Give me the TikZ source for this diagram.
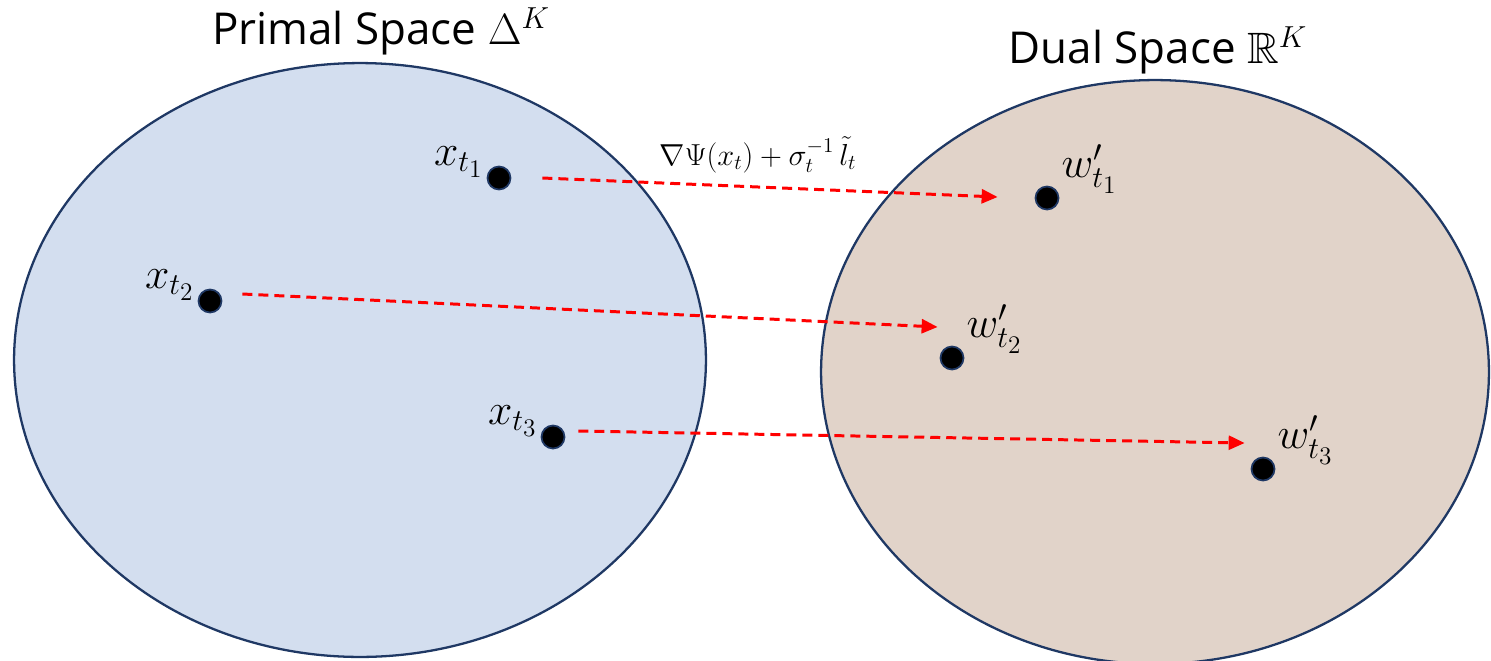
\documentclass[tikz,border=0pt]{standalone}
\usepackage{amsmath,amssymb}
\usepackage{fontspec}
\setmainfont{Open Sans}
\usetikzlibrary{positioning,arrows.meta,calc,shapes.geometric}
\definecolor{rim}{HTML}{1F3864}
\definecolor{primalfill}{HTML}{D3DEEF}
\definecolor{dualfill}{HTML}{E1D3C9}
\definecolor{flowred}{HTML}{FF0000}

\begin{document}
\begin{tikzpicture}[
      x=0.02cm, y=-0.02cm,
      space/.style={draw=rim, line width=1.3pt, ellipse, inner sep=0pt},
      dot/.style={circle, draw=rim, line width=1pt, fill=black,
                  minimum size=0.46cm, inner sep=0pt},
      lbl/.style={inner sep=0pt, font=\fontsize{27}{30}\selectfont},
      title/.style={inner sep=0pt, font=\fontsize{25}{29}\selectfont},
      flow/.style={-{Triangle[length=0.32cm,width=0.28cm]}, color=flowred,
                   line width=1.7pt, dash pattern=on 0.2cm off 0.12cm},
    ]
      \useasboundingbox (0,0) rectangle (1491,660);

      \node[space, fill=primalfill, minimum width=13.84cm, minimum height=11.88cm] (primal) at (360,360) {};
      \node[space, fill=dualfill, minimum width=13.36cm, minimum height=11.68cm] (dual) at (1155,372) {};

      \node[title, anchor=base] (tp) at (381,44) {Primal Space $\Delta^K$};
      \node[title, anchor=base] (td) at (1158,63) {Dual Space $\mathbb{R}^K$};

      \node[dot] (x1) at (499,178) {};
      \node[dot] (x2) at (210,301) {};
      \node[dot] (x3) at (553,437) {};
      \node[dot] (w1) at (1047,198) {};
      \node[dot] (w2) at (952,358) {};
      \node[dot] (w3) at (1263,469) {};

      \node[lbl, anchor=south east] (lx1) at ($(x1.west)+(-3,0)$) {$x_{t_1}$};
      \node[lbl, anchor=south east] (lx2) at ($(x2.west)+(-3,0)$) {$x_{t_2}$};
      \node[lbl, anchor=south east] (lx3) at ($(x3.west)+(-3,0)$) {$x_{t_3}$};
      \node[lbl, anchor=south west] (lw1) at ($(w1.east)+(2,-4)$) {$w'_{t_1}$};
      \node[lbl, anchor=south west] (lw2) at ($(w2.east)+(2,-4)$) {$w'_{t_2}$};
      \node[lbl, anchor=south west] (lw3) at ($(w3.east)+(2,-4)$) {$w'_{t_3}$};

      \node[inner sep=0pt, anchor=base, font=\fontsize{18}{22}\selectfont] (map) at (758,165)
        {$\nabla\Psi(x_t)+\sigma_t^{-1}\,\tilde{l}_t$};

      \draw[flow] ($(x1.east)+(31,0)$) -- ($(w1.west)+(-37,-1)$);
      \draw[flow] ($(x2.east)+(20,-7)$) -- ($(w2.west)+(-2,-31)$);
      \draw[flow] ($(x3.east)+(13,-6)$) -- ($(w3.west)+(-6,-26)$);
    \end{tikzpicture}
\end{document}
